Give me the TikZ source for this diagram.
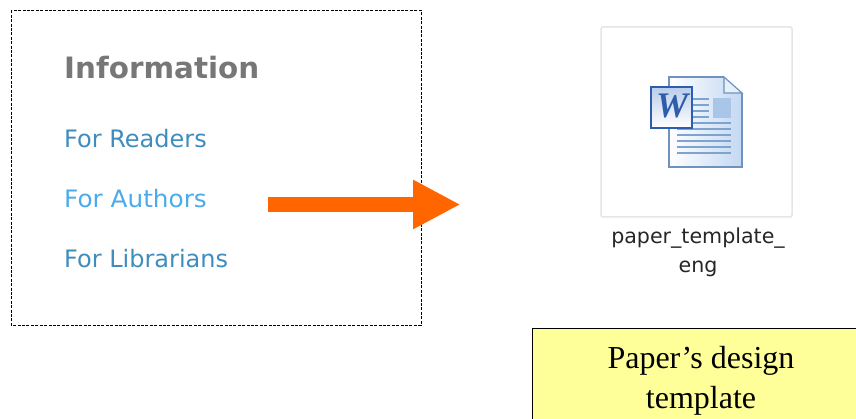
\documentclass[tikz,border=0pt]{standalone}
\usepackage{fontspec}
\setmainfont{Liberation Serif}
\newfontfamily\menufont{DejaVu Sans}
\usetikzlibrary{arrows.meta}
\definecolor{menugray}{HTML}{777777}
\definecolor{menublue}{HTML}{3F8CBE}
\definecolor{menulight}{HTML}{4BAAEA}
\definecolor{arroworange}{HTML}{FF6600}
\definecolor{notefill}{HTML}{FFFF99}
\definecolor{docedge}{HTML}{6F93BE}
\definecolor{docline}{HTML}{7FA3CF}
\definecolor{docshade}{HTML}{C3D8F2}
\definecolor{docpic}{HTML}{A9C6E8}
\definecolor{wordblue}{HTML}{2F5DAE}
\definecolor{wordtop}{HTML}{B9CDEB}
\tikzset{
    menutitle/.style={anchor=base west, inner sep=0, text=menugray, font=\menufont\bfseries\fontsize{29.4}{29.4}\selectfont},
    menuitem/.style={anchor=base west, inner sep=0, text=menublue, font=\menufont\fontsize{24}{24}\selectfont},
    filelabel/.style={anchor=base, inner sep=0, text=black!85, font=\menufont\fontsize{20.6}{20.6}\selectfont},
    notetext/.style={anchor=base, inner sep=0, font=\fontsize{32}{32}\selectfont},
    docrule/.style={docline, line width=1.1pt}
}
\begin{document}
\begin{tikzpicture}[x=1pt, y=-1pt]
        \useasboundingbox (0,0) rectangle (856,419);
        \draw[line width=0.9pt, dash pattern=on 3pt off 1.4pt] (11,10.5) rectangle (421,325);
        \node[menutitle] (info) at (64,79) {Information};
        \node[menuitem] (readers) at (64,147.5) {For Readers};
        \node[menuitem, text=menulight, xscale=1.03] (authors) at (64,207.5) {For Authors};
        \node[menuitem] (librarians) at (64,267.5) {For Librarians};
        \coordinate (arrowstart) at (268,204.5);
        \coordinate (arrowend) at (460.5,204.5);
        \draw[arroworange, line width=15.5pt, -{Triangle[length=47.5pt, width=46pt]}] (arrowstart) -- (arrowend);
        \draw[rounded corners=2pt, line width=1.5pt, draw=black!10, fill=white] (601,27) rectangle (792,217);
        \shade[left color=white, right color=docshade] (669,77) -- (724,77) -- (742,93) -- (742,167) -- (669,167) -- cycle;
        \draw[docedge, line width=1.2pt] (724,77) -- (669,77) -- (669,167) -- (742,167) -- (742,93);
        \filldraw[fill=docshade!40!white, draw=docedge, line width=1.2pt] (724,77) -- (742,93) -- (724,93) -- cycle;
        \fill[docpic] (713,98) rectangle (731,118);
        \foreach \y in {99,105,111,117}
        {
            \draw[docrule] (693,\y) -- (709,\y);
        }
        \foreach \y in {123,129,135,141,147,153}
        {
            \draw[docrule] (677,\y) -- (731,\y);
        }
        \shade[top color=wordtop, bottom color=white] (651,87) rectangle (692,128);
        \draw[wordblue, line width=2pt] (651,87) rectangle (692,128);
        \node[inner sep=0, text=wordblue, font=\bfseries\itshape\fontsize{36}{36}\selectfont] (wordmark) at (672,106) {W};
        \node[filelabel] (filename) at (698,244) {paper\_template\_};
        \node[filelabel] (fileext) at (698,273) {eng};
        \filldraw[fill=notefill, draw=black, line width=1.2pt] (532.5,328.5) rectangle (870,440);
        \node[notetext] (notefirst) at (701,368) {Paper’s design};
        \node[notetext] (notesecond) at (701,408) {template};
\end{tikzpicture}
\end{document}
